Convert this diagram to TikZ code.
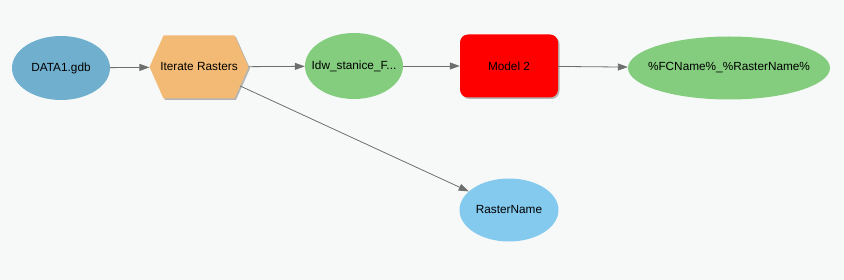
\documentclass[tikz,border=0pt]{standalone}
\usepackage{fontspec}
\setmainfont{Liberation Sans}
\usetikzlibrary{shapes.geometric,shapes.symbols,shadows,arrows.meta}
\definecolor{bgcol}{HTML}{F7F9F9}
\definecolor{datacol}{HTML}{70AFCE}
\definecolor{itercol}{HTML}{F2BA74}
\definecolor{outcol}{HTML}{84CD7E}
\definecolor{varcol}{HTML}{84C9EE}
\definecolor{linkcol}{HTML}{6E6E6E}
% label that does not widen its node
\newcommand{\lbl}[1]{\makebox[0pt]{#1}}

\begin{document}
\begin{tikzpicture}[x=1pt,y=-1pt,
    every node/.style={font=\fontsize{11.8}{13}\selectfont, inner sep=0pt},
    dataset/.style={ellipse, fill=datacol, minimum width=98pt, minimum height=64pt},
    output/.style={ellipse, fill=outcol, minimum width=98pt, minimum height=66pt},
    param/.style={ellipse, fill=varcol, minimum width=99pt, minimum height=63pt},
    iterator/.style={signal, signal to=east and west, signal pointer angle=132,
      fill=itercol, minimum width=99pt, minimum height=63pt,
      drop shadow={shadow xshift=1.5pt, shadow yshift=-1.5pt, fill=black!40, opacity=.7}},
    tool/.style={rectangle, rounded corners=8pt, fill=red, minimum width=98pt, minimum height=63pt,
      drop shadow={shadow xshift=1.5pt, shadow yshift=-1.5pt, fill=black!40, opacity=.7}},
    link/.style={draw=linkcol, line width=.8pt, -{Triangle[length=10pt,width=7pt]}}]
  \useasboundingbox[fill=bgcol] (0,0) rectangle (844,280);
  % nodes
  \node[dataset] (data) at (61,68) {\lbl{DATA1.gdb}};
  \node[iterator] (iter) at (199,67) {\lbl{Iterate Rasters}};
  \node[output] (idw) at (354,66) {\lbl{Idw\_stanice\_F...}};
  \node[tool] (model) at (509,66) {Model 2};
  \node[output, minimum width=202pt, minimum height=63pt] (fcname) at (729,68) {\lbl{\%FCName\%\_\%RasterName\%}};
  \node[param] (raster) at (509,210) {\lbl{RasterName}};
  % links
  \draw[link] (data) -- (iter);
  \draw[link] (iter) -- (idw);
  \draw[link] (idw) -- (model);
  \draw[link] (model) -- (fcname);
  \draw[link] (iter) -- (raster);
\end{tikzpicture}
\end{document}
